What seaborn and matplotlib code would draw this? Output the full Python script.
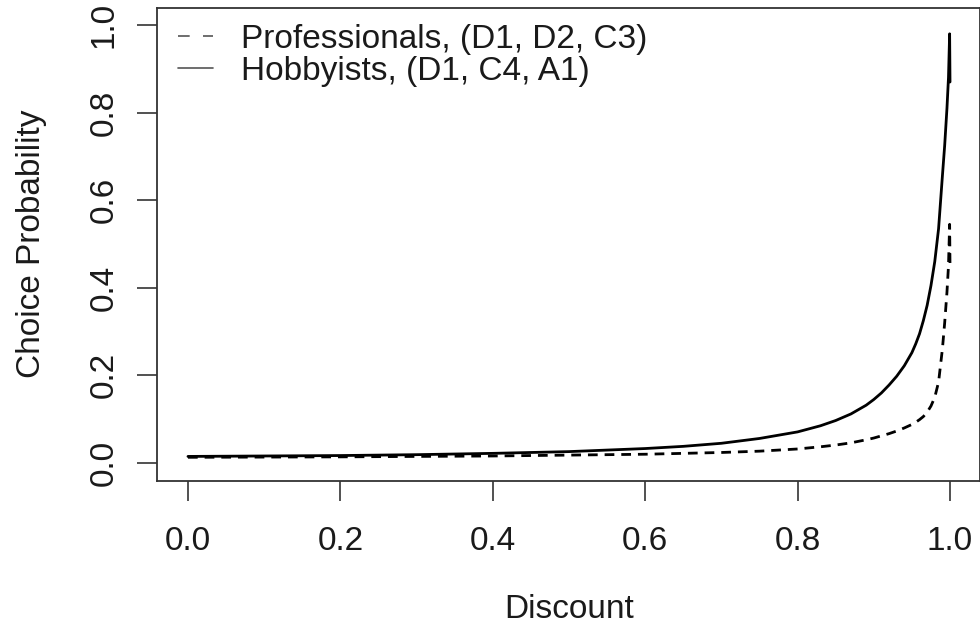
import matplotlib
matplotlib.use("Agg")
import matplotlib.pyplot as plt
from matplotlib.lines import Line2D
import seaborn as sns
import pandas as pd

# values
discount = [0.0, 0.1, 0.2, 0.3, 0.4, 0.5, 0.6, 0.65, 0.7, 0.75, 0.8, 0.83, 0.85,
            0.87, 0.89, 0.9, 0.91, 0.92, 0.93, 0.94, 0.95, 0.955, 0.96, 0.965,
            0.97, 0.975, 0.98, 0.985, 0.99, 0.993, 0.996, 0.998, 0.9995, 1.0]
professionals = [0.013, 0.0135, 0.014, 0.015, 0.016, 0.018, 0.020, 0.022, 0.024,
                 0.027, 0.032, 0.037, 0.041, 0.046, 0.053, 0.057, 0.062, 0.067,
                 0.073, 0.080, 0.088, 0.093, 0.099, 0.106, 0.116, 0.130, 0.150,
                 0.185, 0.26, 0.32, 0.39, 0.45, 0.545, 0.45]
hobbyists = [0.015, 0.016, 0.017, 0.019, 0.022, 0.026, 0.033, 0.038, 0.045,
             0.056, 0.071, 0.085, 0.097, 0.112, 0.132, 0.145, 0.160, 0.178,
             0.198, 0.222, 0.252, 0.272, 0.295, 0.325, 0.36, 0.405, 0.46,
             0.535, 0.655, 0.725, 0.81, 0.88, 0.98, 0.87]
labels = ["Professionals, (D1, D2, C3)", "Hobbyists, (D1, C4, A1)"]
ticks = [0.0, 0.2, 0.4, 0.6, 0.8, 1.0]

df = pd.DataFrame({
    "Discount": discount * 2,
    "Choice Probability": professionals + hobbyists,
    "group": [labels[0]] * len(discount) + [labels[1]] * len(discount),
})

sns.set_style("ticks")
plt.rcParams["font.family"] = ["Liberation Sans", "DejaVu Sans"]

fig = plt.figure(figsize=(9.8, 6.34), dpi=100)
ax = fig.add_axes([0.1607, 0.2421, 0.8398, 0.746])

sns.lineplot(data=df, x="Discount", y="Choice Probability", style="group",
             dashes={labels[0]: (3.5, 2.5), labels[1]: ""}, color="black",
             linewidth=2, sort=False, estimator=None, legend=False, ax=ax)

ax.set_xlim(-0.04, 1.04)
ax.set_ylim(-0.04, 1.04)
ax.set_xticks(ticks)
ax.set_yticks(ticks)
ax.set_xticklabels([f"{t:.1f}" for t in ticks], fontsize=24)
ax.set_yticklabels([f"{t:.1f}" for t in ticks], fontsize=24, rotation=90, va="center")
ax.tick_params(length=14.5, width=1.2, color="#333333", labelcolor="#1a1a1a")
ax.tick_params(axis="x", pad=18)
ax.tick_params(axis="y", pad=13)
for s in ax.spines.values():
    s.set_linewidth(1.3)
    s.set_color("#333333")
ax.set_xlabel("Discount", fontsize=24, labelpad=27, color="#1a1a1a")
ax.set_ylabel("Choice Probability", fontsize=24, labelpad=30, color="#1a1a1a")

handles = [Line2D([], [], color="#555555", lw=1.2, dashes=(7, 8)),
           Line2D([], [], color="#555555", lw=1.2)]
leg = ax.legend(handles, labels, loc="upper left", frameon=False, fontsize=24,
                handlelength=1.05, handletextpad=0.85, labelspacing=0.03,
                borderaxespad=0, borderpad=0, bbox_to_anchor=(0.025, 0.965))
for t in leg.get_texts():
    t.set_color("#1a1a1a")

fig.savefig("out.png", dpi=100)
